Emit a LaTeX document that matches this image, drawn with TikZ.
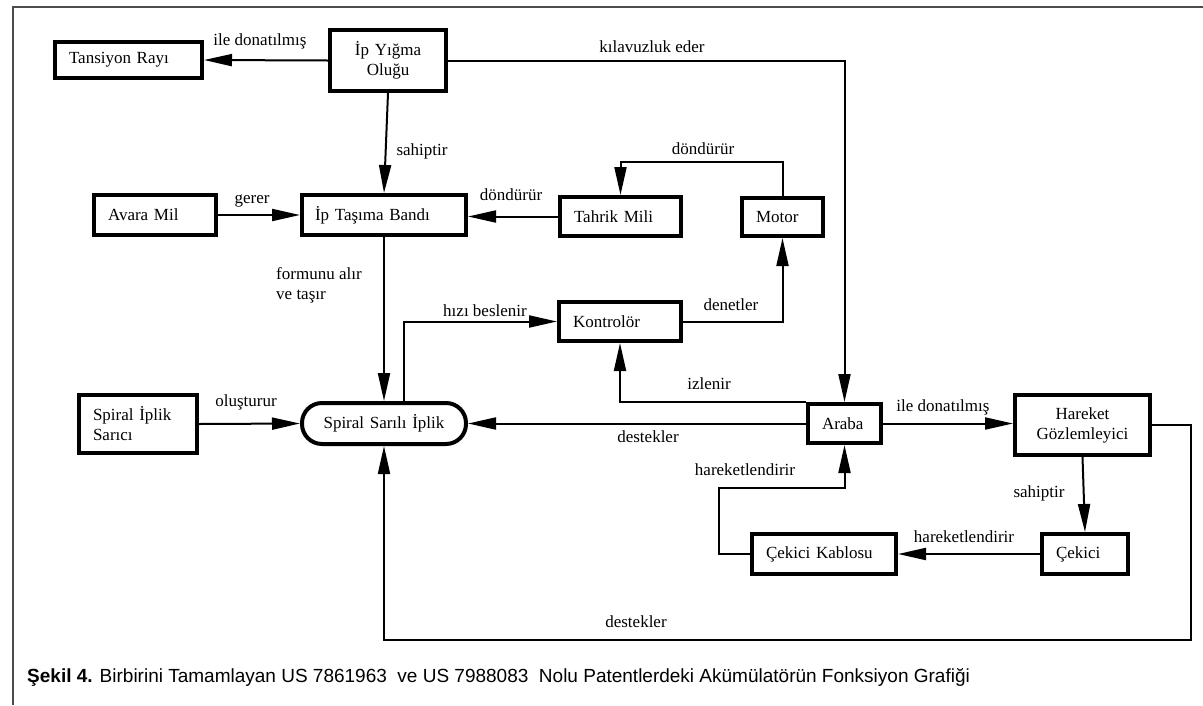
\documentclass[tikz,border=0pt]{standalone}
\usepackage{fontspec}
\setmainfont{Liberation Serif}
\newfontfamily\capfont{Liberation Sans}
\usetikzlibrary{arrows.meta}
\begin{document}
\begin{tikzpicture}[x=1pt,y=-1pt,font=\fontsize{17}{20}\selectfont,
  box/.style={draw, line width=4pt, inner xsep=14pt, inner ysep=0pt, align=left},
  cbox/.style={draw, line width=4pt, inner xsep=14pt, inner ysep=0pt, align=center},
  conn/.style={line width=2pt, -{Triangle[length=28pt,width=12pt]}},
  lbl/.style={inner sep=0pt}]
\useasboundingbox (0,0) rectangle (1203,705);
% frame
\draw[line width=1.5pt, black!70] (13,705) -- (13,7) -- (1203,7);
% boxes
\node[box, minimum width=147pt, minimum height=36pt, text width=119pt] (tansiyon) at (128.5,60) {Tansiyon Rayı};
\node[cbox, minimum width=116pt, minimum height=61pt, text width=88pt] (olugu) at (388,60.5) {İp Yığma\\Oluğu};
\node[box, minimum width=122pt, minimum height=40pt, text width=94pt] (avara) at (155,215) {Avara Mil};
\node[box, inner xsep=13pt, minimum width=164pt, minimum height=40pt, text width=138pt] (band) at (384,215) {İp Taşıma Bandı};
\node[box, minimum width=121pt, minimum height=39pt, text width=93pt] (tahrik) at (620.5,216.5) {Tahrik Mili};
\node[box, minimum width=81pt, minimum height=38pt, text width=53pt] (motor) at (782.5,217) {Motor};
\node[box, minimum width=122pt, minimum height=39pt, text width=94pt] (kontrol) at (620,321.5) {Kontrolör};
\node[box, minimum width=118pt, minimum height=58pt, text width=90pt] (sarici) at (138,424) {Spiral İplik\\Sarıcı};
\node[cbox, rounded corners=20pt, minimum width=164pt, minimum height=41pt, text width=136pt] (spiral) at (384,423.5) {Spiral Sarılı İplik};
\node[box, minimum width=73pt, minimum height=39pt, text width=45pt] (araba) at (844.5,423.5) {Araba};
\node[cbox, minimum width=135pt, minimum height=60pt, text width=107pt] (hareket) at (1082.5,425) {Hareket\\Gözlemleyici};
\node[box, minimum width=86pt, minimum height=40pt, text width=58pt] (cekici) at (1085,554) {Çekici};
\node[box, minimum width=144pt, minimum height=40pt, text width=116pt] (kablo) at (824,554) {Çekici Kablosu};
% helper coordinates
\coordinate (m1) at (0,162);
\coordinate (k1) at (719,488);
\coordinate (d1) at (1191,640);
% connectors
\draw[conn] (olugu.west) -- (tansiyon.east);
\draw[conn] (olugu.south) -- (band.north);
\draw[conn] (olugu.east) -| (araba.north);
\draw[conn] (avara.east) -- (band.west);
\draw[conn] (tahrik.west) -- (tahrik.west -| band.east);
\draw[conn] (motor.north) -- (motor.north |- m1) -| (tahrik.north);
\draw[conn] (kontrol.east) -| (motor.south);
\draw[conn] ([xshift=20pt]spiral.north) |- (kontrol.west);
\draw[conn] (band.south) -- (spiral.north);
\draw[conn] (sarici.east) -- (spiral.west);
\draw[conn] (araba.west) -- (spiral.east);
\draw[conn] (araba.north west) -| (kontrol.south);
\draw[conn] (araba.east) -- (araba.east -| hareket.west);
\draw[conn] (hareket.south) -- (cekici.north);
\draw[conn] (cekici.west) -- (kablo.east);
\draw[conn] (kablo.west) -| (k1) -| (araba.south);
\draw[conn] (hareket.east) -| (d1) -| (spiral.south);
% labels
\node[lbl] (l1) at (260,41) {ile donatılmış};
\node[lbl] (l2) at (652,47) {kılavuzluk eder};
\node[lbl] (l3) at (422,151) {sahiptir};
\node[lbl] (l4) at (252,201) {gerer};
\node[lbl] (l5) at (511,195) {döndürür};
\node[lbl] (l6) at (703,149) {döndürür};
\node[lbl, anchor=west, align=left] (l7) at (276,285) {formunu alır\\ve taşır};
\node[lbl] (l8) at (485,311) {hızı beslenir};
\node[lbl] (l9) at (731,305) {denetler};
\node[lbl] (l10) at (246,402) {oluşturur};
\node[lbl] (l11) at (709,384) {izlenir};
\node[lbl] (l12) at (648,437) {destekler};
\node[lbl] (l13) at (745,470) {hareketlendirir};
\node[lbl] (l14) at (943,407) {ile donatılmış};
\node[lbl] (l15) at (1039,493) {sahiptir};
\node[lbl] (l16) at (964,537) {hareketlendirir};
\node[lbl] (l17) at (636,622) {destekler};
% caption
\node[anchor=base west, inner sep=0pt, font=\capfont\fontsize{19}{22}\selectfont] (cap) at (27,682) {\textbf{Şekil 4.} Birbirini Tamamlayan US 7861963\ \ ve US 7988083\ \ Nolu Patentlerdeki Akümülatörün Fonksiyon Grafiği};
\end{tikzpicture}
\end{document}
